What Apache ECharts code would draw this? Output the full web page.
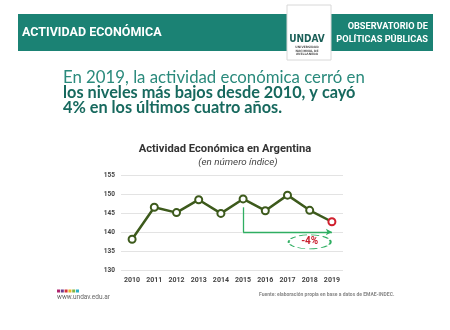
<!DOCTYPE html>
<html><head><meta charset="utf-8">
<script src="https://cdn.jsdelivr.net/npm/echarts@6/dist/echarts.min.js"></script>
<style>html,body{margin:0;padding:0;background:#fff}#c{width:450px;height:330px}</style>
</head><body><div id="c"></div>
<script>
var years = ['2010','2011','2012','2013','2014','2015','2016','2017','2018','2019'];
var values = [138.1, 146.5, 145.1, 148.5, 144.9, 148.7, 145.6, 149.7, 145.7, 142.7];
var yTicks = [130, 135, 140, 145, 150, 155];
var arrowStart = ['2015', 146.5];
var arrowCorner = ['2015', 140];
var arrowEnd = ['2019', 140];
var dropLabel = '-4%';
var dropPos = ['2018', 137.4];

var teal = '#1b8274';
var chart = echarts.init(document.getElementById('c'));
var dotColors = ['#b0266f','#6b3a8e','#d8313a','#e9b92a','#7fb545','#2bb0c8'];
var dots = dotColors.map(function(c,i){return {type:'rect',shape:{x:57+i*3.8,y:289.5,width:3,height:3},style:{fill:c}};});

var graphics = [
  {type:'rect',shape:{x:18,y:14,width:415,height:37},style:{fill:teal}},
  {type:'rect',shape:{x:287,y:5,width:44,height:55},style:{fill:'#fff',stroke:'#d8d8d8',lineWidth:1}},
  {type:'text',x:22,y:32.5,style:{text:'ACTIVIDAD ECONÓMICA',fill:'#fff',font:'bold 12.5px Roboto',textVerticalAlign:'middle'}},
  {type:'text',x:428,y:27,style:{text:'OBSERVATORIO DE',fill:'#fff',font:'bold 9.2px Roboto',textAlign:'right',textVerticalAlign:'middle'}},
  {type:'text',x:428,y:40,style:{text:'POLÍTICAS PÚBLICAS',fill:'#fff',font:'bold 9.2px Roboto',textAlign:'right',textVerticalAlign:'middle'}},
  {type:'text',x:307,y:39,style:{text:'UNDAV',fill:'#1b5f58',font:'bold 10px "DejaVu Sans Condensed"',textAlign:'center',textVerticalAlign:'middle'}},
  {type:'text',x:307,y:47.5,style:{text:'UNIVERSIDAD',fill:'#555',font:'bold 3px "DejaVu Sans"',textAlign:'center',textVerticalAlign:'middle'}},
  {type:'text',x:307,y:50.8,style:{text:'NACIONAL DE',fill:'#555',font:'bold 3px "DejaVu Sans"',textAlign:'center',textVerticalAlign:'middle'}},
  {type:'text',x:307,y:54.1,style:{text:'AVELLANEDA',fill:'#555',font:'bold 3px "DejaVu Sans"',textAlign:'center',textVerticalAlign:'middle'}},
  {type:'text',x:63,y:78,style:{text:'En 2019, la actividad económica cerró en',fill:'#2a8a7c',font:'16.8px Lato',textVerticalAlign:'middle'}},
  {type:'text',x:63,y:93,style:{text:'los niveles más bajos desde 2010, y cayó',fill:'#17695e',font:'bold 16.3px Lato',textVerticalAlign:'middle'}},
  {type:'text',x:63,y:107.5,style:{text:'4% en los últimos cuatro años.',fill:'#17695e',font:'bold 16.3px Lato',textVerticalAlign:'middle'}},
  {type:'text',x:225,y:149,style:{text:'Actividad Económica en Argentina',fill:'#333',font:'bold 11.2px Roboto',textAlign:'center',textVerticalAlign:'middle'}},
  {type:'text',x:238,y:163,style:{text:'(en número índice)',fill:'#444',font:'italic 9.8px Roboto',textAlign:'center',textVerticalAlign:'middle'}},
  {type:'text',x:57,y:297.5,style:{text:'www.undav.edu.ar',fill:'#666',font:'6.5px Roboto',textVerticalAlign:'middle'}},
  {type:'text',x:259,y:295,style:{text:'Fuente: elaboración propia en base a datos de EMAE-INDEC.',fill:'#888',font:'bold 5px Roboto',textVerticalAlign:'middle'}}
].concat(dots);

var data = values.map(function(v,i){
  if (i === values.length-1) return {value:v, itemStyle:{color:'#d0202e',borderColor:'#d0202e'}};
  return v;
});

chart.setOption({
  animation:false,
  grid:{left:121,right:107,top:175,bottom:60},
  xAxis:{type:'category',data:years,boundaryGap:true,
    axisLine:{show:false},axisTick:{show:false},
    axisLabel:{color:'#444',fontWeight:'bold',fontSize:7,fontFamily:'Roboto',margin:7}},
  yAxis:{type:'value',min:yTicks[0],max:yTicks[yTicks.length-1],interval:5,
    axisLabel:{color:'#444',fontWeight:'bold',fontSize:6.5,fontFamily:'Roboto',margin:6},
    splitLine:{lineStyle:{color:'#e3e3e3',width:1}}},
  graphic:graphics,
  series:[{
    type:'line',data:data,symbol:'emptyCircle',symbolSize:7,
    lineStyle:{color:'#3d5a1c',width:2.5},
    itemStyle:{color:'#3d5a1c',borderColor:'#3d5a1c',borderWidth:2.2},
    markLine:{silent:true,symbol:['none','none'],
      lineStyle:{color:'#2fae62',width:1.3,type:'solid'},label:{show:false},
      data:[
        [{coord:arrowStart,symbol:'none'},{coord:arrowCorner,symbol:'none'}],
        [{coord:arrowCorner,symbol:'none'},{coord:arrowEnd,symbol:'arrow',symbolSize:[5,6]}]
      ]},
    markPoint:{silent:true,
      data:[{coord:dropPos,symbol:'circle',symbolSize:[42,14],
        itemStyle:{color:'#fff',borderColor:'#2fae62',borderWidth:1.2,borderType:'dashed'},
        label:{show:true,formatter:dropLabel,color:'#c8202e',fontWeight:'bold',fontSize:10,fontFamily:'Roboto'}}]}
  }]
});
</script></body></html>
